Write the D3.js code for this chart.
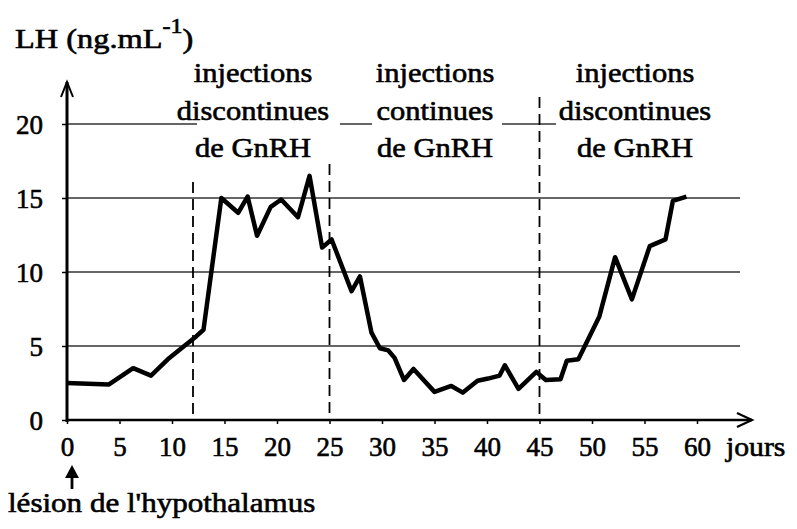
<!DOCTYPE html>
<html>
<head>
<meta charset="utf-8">
<script src="https://cdn.jsdelivr.net/npm/d3@7"></script>
<style>
body { margin: 0; background: #fff; }
</style>
</head>
<body>
<div id="chart"></div>
<script>
// LH level (ng/mL) after lesion of the hypothalamus
var days = [0, 4, 6.3, 8, 9.6, 10.9, 12.3, 13, 14.7, 16.3, 17.2, 18.1, 19.4, 20.4, 22, 23.1, 24.3, 25.2,
            27.1, 27.9, 29, 29.8, 30.6, 31.2, 32.1, 33, 35, 36.6, 37.7, 39.1, 40.1, 41.2, 41.7, 43, 44.7,
            45.6, 47, 47.6, 48.7, 50.7, 52.2, 53.8, 55.5, 57, 57.7, 59];
var lh = [2.5, 2.4, 3.5, 3.0, 4.1, 4.85, 5.65, 6.1, 15.0, 14.0, 15.1, 12.45, 14.4, 14.9, 13.7, 16.5, 11.65, 12.2,
          8.7, 9.7, 5.9, 4.85, 4.7, 4.2, 2.7, 3.45, 1.9, 2.3, 1.85, 2.65, 2.8, 3.0, 3.7, 2.1, 3.25,
          2.7, 2.75, 4.0, 4.1, 7.0, 11.0, 8.15, 11.75, 12.2, 14.8, 15.1];

var xTicks = [0, 5, 10, 15, 20, 25, 30, 35, 40, 45, 50, 55, 60];
var yTicks = [0, 5, 10, 15, 20];
var phaseStarts = [12, 25, 45];
var phaseLabels = [
  ["injections", "discontinues", "de GnRH"],
  ["injections", "continues", "de GnRH"],
  ["injections", "discontinues", "de GnRH"]
];

var FONT = "'Liberation Serif'";
var W = 797, H = 529;
var svg = d3.select("#chart").append("svg")
  .attr("width", W).attr("height", H);

var x = d3.scaleLinear().domain([0, 60]).range([67, 697]);
var y = d3.scaleLinear().domain([0, 20]).range([420, 124]);

function serif(sel, size) {
  sel.style("font-family", FONT)
    .style("font-size", size + "px")
    .style("fill", "#000")
    .style("stroke", "#000").style("stroke-width", 0.6);
}

// stretched serif text, like the scanned figure
function label(g, txt, px, py, anchor, k) {
  var t = g.append("text")
    .attr("transform", "translate(" + px + "," + py + ") scale(" + k + ",1)")
    .attr("text-anchor", anchor)
    .text(txt);
  serif(t, 27);
  return t;
}

// gridlines
svg.append("g")
  .selectAll("line")
  .data(yTicks.filter(function(d) { return d > 0; }))
  .enter().append("line")
    .attr("x1", x(0)).attr("x2", 740)
    .attr("y1", function(d) { return y(d); })
    .attr("y2", function(d) { return y(d); })
    .attr("stroke", "#333")
    .attr("stroke-width", 1.6);

// dashed phase limits
svg.append("g")
  .selectAll("line")
  .data(phaseStarts)
  .enter().append("line")
    .attr("x1", function(d) { return x(d); })
    .attr("x2", function(d) { return x(d); })
    .attr("y1", function(d, i) { return [182, 164, 97][i]; })
    .attr("y2", y(0))
    .attr("stroke", "#000")
    .attr("stroke-width", 1.8)
    .attr("stroke-dasharray", "11,6");

// phase labels, with white boxes over the 20 gridline
var boxes = [[197, 340], [372, 502], [556, 748]];
var centers = [253, 435, 635];
var ann = svg.append("g");
boxes.forEach(function(b, i) {
  ann.append("rect")
    .attr("x", b[0]).attr("y", 58)
    .attr("width", b[1] - b[0]).attr("height", 104)
    .attr("fill", "#fff");
  phaseLabels[i].forEach(function(t, j) {
    label(ann, t, centers[i], 82 + j * 37.5, "middle", 1.13);
  });
});

// curve
var line = d3.line()
  .x(function(d, i) { return x(days[i]); })
  .y(function(d) { return y(d); });

svg.append("path")
  .datum(lh)
  .attr("d", line)
  .attr("fill", "none")
  .attr("stroke", "#000")
  .attr("stroke-width", 4.5)
  .attr("stroke-linejoin", "round");

// X axis
var xAxis = svg.append("g")
  .attr("transform", "translate(0," + y(0) + ")")
  .call(d3.axisBottom(x).tickValues(xTicks).tickSize(4));
xAxis.select(".domain").remove();
xAxis.selectAll("line").attr("stroke-width", 1.5);
xAxis.selectAll("text")
  .attr("y", 36).attr("dy", null)
  .call(serif, 27);

svg.append("line")
  .attr("x1", x(0)).attr("x2", 752)
  .attr("y1", y(0)).attr("y2", y(0))
  .attr("stroke", "#000").attr("stroke-width", 2.5);
svg.append("path")
  .attr("d", "M737," + (y(0) - 7) + " L752," + y(0) + " L737," + (y(0) + 7))
  .attr("fill", "none").attr("stroke", "#000").attr("stroke-width", 2.2);

label(svg, "jours", x(60) + 29, y(0) + 36, "start", 1.1);

// Y axis
var yAxis = svg.append("g")
  .attr("transform", "translate(" + x(0) + ",0)")
  .call(d3.axisLeft(y).tickValues(yTicks).tickSize(5));
yAxis.select(".domain").remove();
yAxis.selectAll("line").attr("stroke-width", 1.5);
yAxis.selectAll("text")
  .attr("x", -24).attr("dy", "0.34em")
  .call(serif, 27);

svg.append("line")
  .attr("x1", x(0)).attr("x2", x(0))
  .attr("y1", y(0) + 2).attr("y2", 82)
  .attr("stroke", "#000").attr("stroke-width", 3);
svg.append("path")
  .attr("d", "M" + (x(0) - 6) + ",97 L" + x(0) + ",82 L" + (x(0) + 6) + ",97")
  .attr("fill", "none").attr("stroke", "#000").attr("stroke-width", 2);

// title
var title = svg.append("text")
  .attr("transform", "translate(15,48) scale(1.2,1)")
  .call(serif, 27);
title.append("tspan").text("LH (ng.mL");
title.append("tspan").attr("dy", -15).style("font-size", "20px").text("-1");
title.append("tspan").attr("dy", 15).text(")");

// lesion marker
var ax = x(0) + 5;
svg.append("path")
  .attr("d", "M" + ax + ",465 L" + (ax + 7) + ",478 L" + (ax - 7) + ",478 Z")
  .attr("fill", "#000");
svg.append("line")
  .attr("x1", ax).attr("x2", ax).attr("y1", 476).attr("y2", 489)
  .attr("stroke", "#000").attr("stroke-width", 2.8);
label(svg, "lésion de l'hypothalamus", 8, 512, "start", 1.15);
</script>
</body>
</html>
